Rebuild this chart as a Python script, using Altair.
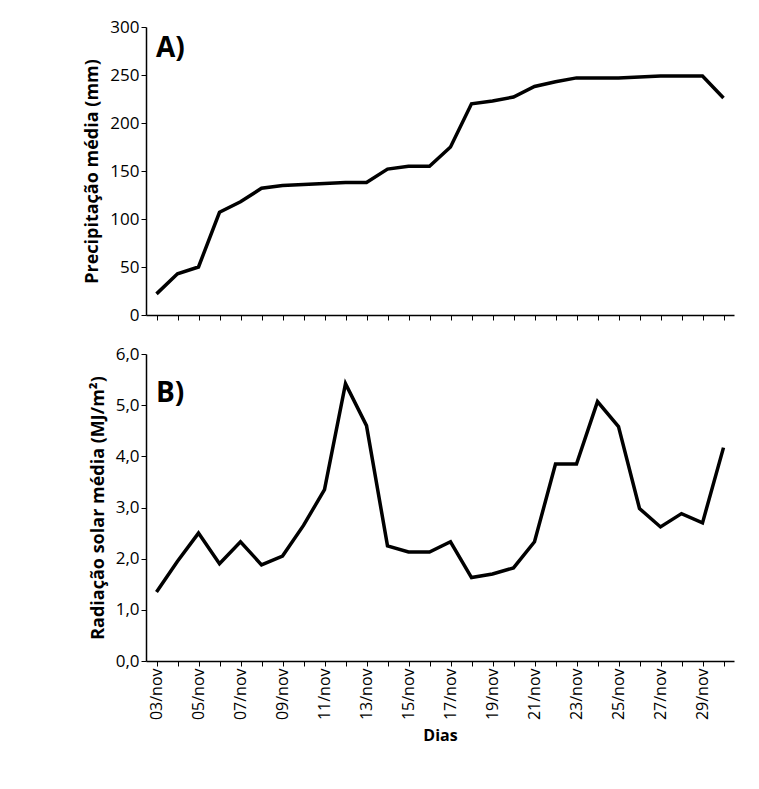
import altair as alt
import pandas as pd

days = [f"{d:02d}/nov" for d in range(3, 31)]
precip = [22, 43, 50, 107, 118, 132, 135, 136, 137, 138, 138, 152, 155, 155,
          175, 220, 223, 227, 238, 243, 247, 247, 247, 248, 249, 249, 249, 226]
rad = [1.35, 1.95, 2.5, 1.9, 2.33, 1.88, 2.05, 2.65, 3.35, 5.42, 4.6, 2.25, 2.13, 2.13,
       2.33, 1.63, 1.7, 1.82, 2.33, 3.85, 3.85, 5.07, 4.58, 2.98, 2.62, 2.88, 2.7, 4.17]

df = pd.DataFrame({"dia": days, "precip": precip, "rad": rad})
one = pd.DataFrame({"k": [0]})
font = "Open Sans"
W = 588

x_top = alt.X("dia:O", sort=days, title=None,
              scale=alt.Scale(paddingInner=1, paddingOuter=0.5),
              axis=alt.Axis(labels=False, ticks=True, domainColor="black", tickColor="black",
                            domainWidth=1.5))
x_bot = alt.X("dia:O", sort=days, title="Dias",
              scale=alt.Scale(paddingInner=1, paddingOuter=0.5),
              axis=alt.Axis(labelAngle=-90, labelFontSize=16, labelColor="black",
                            labelExpr="indexof(['03','05','07','09','11','13','15','17','19','21','23','25','27','29'], substring(datum.value,0,2)) >= 0 ? datum.value : ''",
                            titleFontSize=16, titleFontWeight="bold", titlePadding=8,
                            titleColor="black", domainColor="black", tickColor="black",
                            domainWidth=1.5))

yaxis = dict(grid=False, labelFontSize=17, labelColor="black", titleFontSize=18,
             titleFontWeight="bold", titleColor="black", domainColor="black",
             tickColor="black", domainWidth=1.5, titlePadding=8)

top = alt.Chart(df).mark_line(color="black", strokeWidth=3.5).encode(
    x=x_top,
    y=alt.Y("precip:Q", title="Precipitação média (mm)",
            scale=alt.Scale(domain=[0, 300]),
            axis=alt.Axis(values=[0, 50, 100, 150, 200, 250, 300], **yaxis)),
).properties(width=W, height=288)
top_lbl = alt.Chart(one).mark_text(text="A)", fontSize=28, fontWeight="bold",
                                   align="left", font=font).encode(
    x=alt.value(10), y=alt.value(22))
top = top + top_lbl

bot = alt.Chart(df).mark_line(color="black", strokeWidth=3.5).encode(
    x=x_bot,
    y=alt.Y("rad:Q", title="Radiação solar média (MJ/m²)",
            scale=alt.Scale(domain=[0, 6]),
            axis=alt.Axis(values=[0, 1, 2, 3, 4, 5, 6],
                          labelExpr="replace(format(datum.value,'.1f'),'.',',')", **yaxis)),
).properties(width=W, height=307)
bot_lbl = alt.Chart(one).mark_text(text="B)", fontSize=28, fontWeight="bold",
                                   align="left", font=font).encode(
    x=alt.value(10), y=alt.value(40))
bot = bot + bot_lbl

chart = alt.vconcat(top, bot, spacing=22).properties(
    padding={"left": 75, "top": 10, "right": 5, "bottom": 5}
).configure(font=font).configure_view(stroke=None).configure_axis(
    titleFont=font, labelFont=font)

chart.save("out.html", embed_options={"renderer": "svg", "actions": False})
